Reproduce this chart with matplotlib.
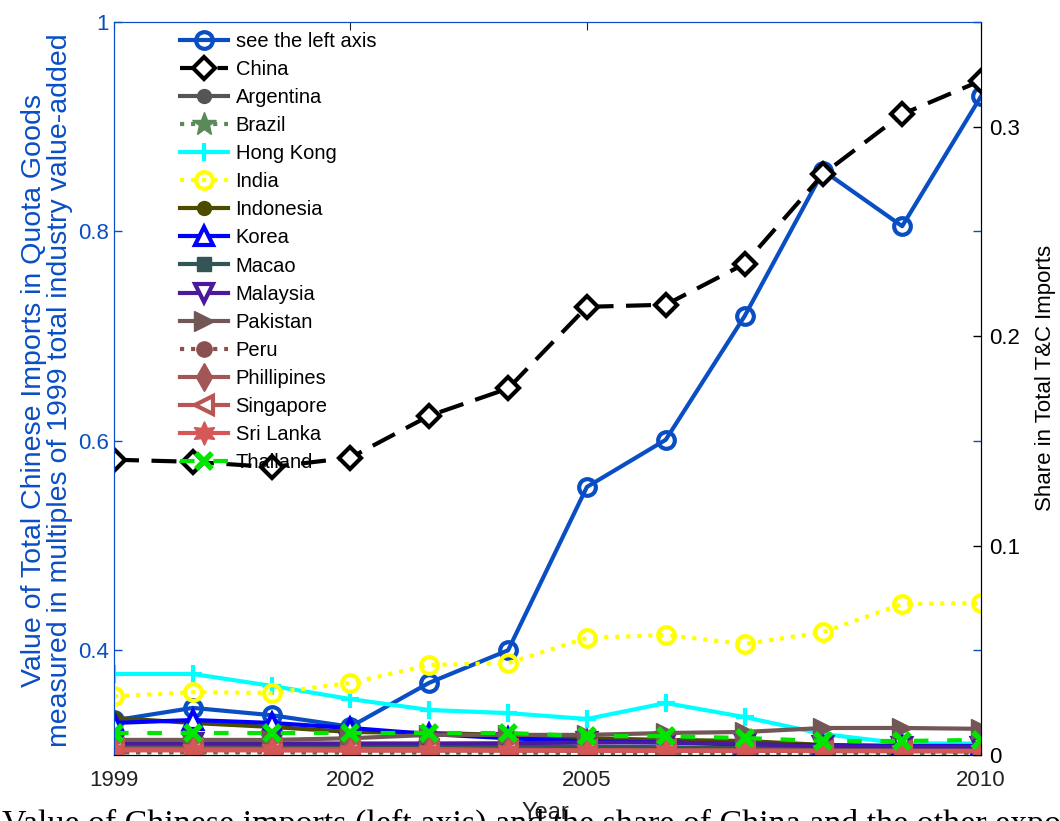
import numpy as np
import matplotlib.pyplot as plt

plt.rcParams['font.family'] = ['Liberation Sans', 'DejaVu Sans']

years = list(range(1999, 2011))

# left axis: Chinese imports in multiples of 1999 value-added
left_series = [0.333, 0.345, 0.338, 0.327, 0.369, 0.400, 0.556, 0.601, 0.719, 0.858, 0.805, 0.929]

# right axis: share in total T&C imports
china = [0.141, 0.140, 0.1375, 0.142, 0.162, 0.175, 0.214, 0.215, 0.2345, 0.2775, 0.306, 0.322]
argentina = [0.0025, 0.0025, 0.0024, 0.0023, 0.0022, 0.0022, 0.0021, 0.0020, 0.0020, 0.0019, 0.0019, 0.0018]
brazil = [0.0012, 0.0012, 0.0012, 0.0011, 0.0011, 0.0011, 0.0010, 0.0010, 0.0010, 0.0010, 0.0010, 0.0010]
hong_kong = [0.0387, 0.0387, 0.0330, 0.0267, 0.0215, 0.0200, 0.0172, 0.0248, 0.0181, 0.0100, 0.0055, 0.0055]
india = [0.0280, 0.0300, 0.0296, 0.0344, 0.0430, 0.0439, 0.0559, 0.0573, 0.0530, 0.0587, 0.0721, 0.0726]
indonesia = [0.0177, 0.0153, 0.0134, 0.0110, 0.0105, 0.0096, 0.0080, 0.0072, 0.0067, 0.0048, 0.0043, 0.0043]
korea = [0.0153, 0.0167, 0.0153, 0.0129, 0.0100, 0.0080, 0.0065, 0.0060, 0.0050, 0.0045, 0.0043, 0.0043]
macao = [0.0048, 0.0048, 0.0047, 0.0046, 0.0045, 0.0043, 0.0040, 0.0037, 0.0033, 0.0030, 0.0028, 0.0027]
malaysia = [0.0057, 0.0057, 0.0055, 0.0055, 0.0055, 0.0056, 0.0060, 0.0060, 0.0053, 0.0042, 0.0040, 0.0040]
pakistan = [0.0072, 0.0072, 0.0072, 0.0080, 0.0096, 0.0096, 0.0096, 0.0105, 0.0110, 0.0129, 0.0129, 0.0125]
peru = [0.0016, 0.0016, 0.0015, 0.0015, 0.0015, 0.0014, 0.0014, 0.0014, 0.0013, 0.0013, 0.0013, 0.0013]
phillipines = [0.0030, 0.0030, 0.0029, 0.0028, 0.0026, 0.0025, 0.0023, 0.0022, 0.0020, 0.0019, 0.0018, 0.0018]
singapore = [0.0028, 0.0028, 0.0027, 0.0026, 0.0025, 0.0024, 0.0023, 0.0022, 0.0021, 0.0020, 0.0019, 0.0019]
sri_lanka = [0.0022, 0.0022, 0.0022, 0.0021, 0.0021, 0.0021, 0.0020, 0.0020, 0.0020, 0.0020, 0.0020, 0.0020]
thailand = [0.0105, 0.0105, 0.0105, 0.0105, 0.0105, 0.0105, 0.0090, 0.0090, 0.0081, 0.0067, 0.0067, 0.0072]

blue = '#0a4ec4'
lw = 3

fig = plt.figure(figsize=(10.6, 8.21), dpi=100)
ax = fig.add_axes([114 / 1060, 1 - 755 / 821, 867 / 1060, 733 / 821])
ax2 = ax.twinx()

h_left, = ax.plot(years, left_series, color=blue, lw=lw, marker='o', ms=12, mfc='none', mew=3,
                  label='see the left axis')

series = [
    ('China', china, dict(color='black', ls=(0, (6, 3)), marker='D', ms=11, mfc='white', mew=3)),
    ('Argentina', argentina, dict(color='#555555', ls='-', marker='o', ms=10)),
    ('Brazil', brazil, dict(color='#5a8a5a', ls=':', marker='*', ms=18)),
    ('Hong Kong', hong_kong, dict(color='cyan', ls='-', marker='+', ms=13, mew=3)),
    ('India', india, dict(color='yellow', ls=':', marker='o', ms=12, mfc='none', mew=3)),
    ('Indonesia', indonesia, dict(color='#4c4c00', ls='-', marker='o', ms=10)),
    ('Korea', korea, dict(color='#0000ff', ls='-', marker='^', ms=13, mfc='white', mew=3)),
    ('Macao', macao, dict(color='#335555', ls='-', marker='s', ms=10)),
    ('Malaysia', malaysia, dict(color='#4b1a9c', ls='-', marker='v', ms=13, mfc='white', mew=3)),
    ('Pakistan', pakistan, dict(color='#735656', ls='-', marker='>', ms=15)),
    ('Peru', peru, dict(color='#8a5050', ls=':', marker='o', ms=11)),
    ('Phillipines', phillipines, dict(color='#a35656', ls='-', marker='d', ms=14)),
    ('Singapore', singapore, dict(color='#b85656', ls='-', marker='<', ms=13, mfc='white', mew=3)),
    ('Sri Lanka', sri_lanka, dict(color='#d45858', ls='-', marker=(6, 1, 0), ms=17)),
    ('Thailand', thailand, dict(color='#00e600', ls=(0, (3.5, 4.5)), marker='x', ms=11, mew=4)),
]

handles = [h_left]
for name, vals, style in series:
    h, = ax2.plot(years, vals, lw=lw, label=name, **style)
    handles.append(h)

# axes limits and ticks
ax.set_xlim(1999, 2010)
ax.set_ylim(0.3, 1.0)
ax2.set_ylim(0, 0.35)
ax.set_xticks([1999, 2002, 2005, 2010])
ax.set_yticks([0.4, 0.6, 0.8, 1.0])
ax.set_yticklabels(['0.4', '0.6', '0.8', '1'])
ax2.set_yticks([0, 0.1, 0.2, 0.3])
ax2.set_yticklabels(['0', '0.1', '0.2', '0.3'])

ax.tick_params(axis='y', direction='in', colors=blue, labelsize=16, right=True, length=6, width=1)
ax.tick_params(axis='x', direction='in', colors='#222222', labelsize=16, top=True, length=6, pad=11)
ax2.tick_params(axis='y', direction='in', colors='black', labelsize=16, length=6, width=1, pad=6)
for lab in ax.get_yticklabels():
    lab.set_color(blue)

ax.spines['left'].set_color(blue)
ax.spines['top'].set_color(blue)
ax2.spines['left'].set_color(blue)
ax2.spines['top'].set_color(blue)
ax2.spines['right'].set_color('black')
ax2.spines['bottom'].set_color('black')

ax.set_xlabel('Year', fontsize=17, color='#222222')
ax.xaxis.set_label_coords(0.4975, -0.064)

fig.text(47 / 1060, 1 - 390 / 821,
         'Value of Total Chinese Imports in Quota Goods\n'
         'measured in multiples of 1999 total industry value-added',
         rotation=90, ha='center', va='center', multialignment='center',
         color=blue, fontsize=20.5, linespacing=1.03)
fig.text(1045 / 1060, 1 - 378 / 821, 'Share in Total T&C Imports', rotation=90,
         ha='center', va='center', fontsize=16,
         family=['Liberation Sans Narrow', 'Liberation Sans'])

ax2.legend(handles=handles, loc='upper left', bbox_to_anchor=(180 / 1060, 1 - 32 / 821),
           bbox_transform=fig.transFigure, frameon=False, fontsize=14.5, borderpad=0,
           borderaxespad=0, handlelength=2.36, handletextpad=0.4, labelspacing=0.45)

fig.text(0.002, -12 / 821,
         'Value of Chinese imports (left axis) and the share of China and the other exporters',
         family='Liberation Serif', fontsize=24.5, ha='left', va='baseline')

fig.savefig('out.png', dpi=100)
